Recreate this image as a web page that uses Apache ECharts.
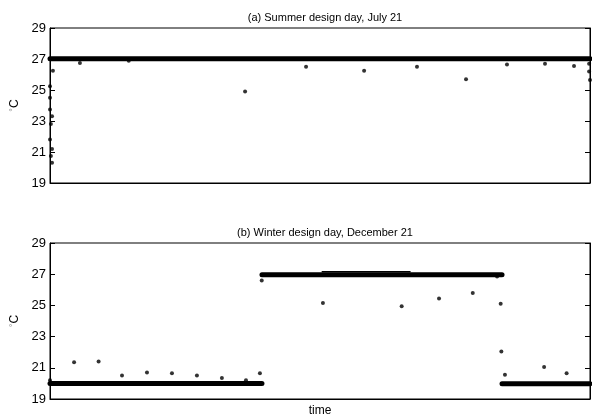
<!DOCTYPE html>
<html>
<head>
<meta charset="utf-8">
<script src="https://cdn.jsdelivr.net/npm/echarts@6/dist/echarts.min.js"></script>
<style>
	html, body { margin: 0; padding: 0; background: #fff; }
	#chart { width: 592px; height: 420px; }
</style>
</head>
<body>
<div id="chart"></div>
<script>
// y axis ticks (deg C), x is hour of day
var yTicks = [19, 21, 23, 25, 27, 29];
var hours = [0, 24];

// summer: dense band of points ~27 C, drawn as segments [start, end, level]
var summerBandStart = [0];
var summerBandEnd = [24];
var summerBandLevel = [27.02];

// summer outliers
var summerOutX = [0.13, 0.0, 0.0, 0.0, 0.09, 0.04, 0.0, 0.09, 0.04, 0.09, 1.33, 3.5, 8.67, 11.38, 13.96, 16.31, 18.49, 20.31, 22.0, 23.29, 23.96, 23.96, 24.0];
var summerOutY = [26.25, 25.25, 24.5, 23.75, 23.3, 22.8, 21.8, 21.2, 20.75, 20.3, 26.75, 26.88, 24.9, 26.5, 26.25, 26.5, 25.7, 26.65, 26.7, 26.55, 26.7, 26.2, 25.65];

// winter: heating setback 20 C, occupied 27 C
var winterBandStart = [0, 9.42, 20.09, 12.1];
var winterBandEnd = [9.42, 20.09, 24, 16.0];
var winterBandLevel = [20.0, 26.97, 19.97, 27.15];

// winter outliers
var winterOutX = [0, 1.07, 2.16, 3.2, 4.31, 5.42, 6.53, 7.64, 8.71, 9.33, 9.41, 12.13, 15.63, 17.29, 18.79, 19.87, 20.03, 20.06, 20.22, 21.96, 22.96];
var winterOutY = [20.2, 21.35, 21.4, 20.5, 20.7, 20.65, 20.5, 20.35, 20.2, 20.65, 26.6, 25.15, 24.95, 25.45, 25.8, 26.85, 25.1, 22.05, 20.55, 21.05, 20.65];

var FONT = 'Liberation Sans, Arial, sans-serif';

function zip(xs, ys) {
	return xs.map(function (x, i) { return [x, ys[i]]; });
}

// one line series per band segment
function bandSeries(starts, ends, levels, idx) {
	return starts.map(function (s, i) {
		var thin = (idx === 1 && i === 3);
		return {
			type: 'line',
			xAxisIndex: idx,
			yAxisIndex: idx * 2,
			data: [[s, levels[i]], [ends[i], levels[i]]],
			symbol: 'none',
			silent: true,
			lineStyle: { color: '#000', width: thin ? 1.5 : 5, cap: 'round' }
		};
	});
}

function yAxes(gridIndex, showName) {
	var base = {
		gridIndex: gridIndex,
		min: yTicks[0],
		max: yTicks[yTicks.length - 1],
		interval: 2,
		splitLine: { show: false },
		axisLine: { show: true, lineStyle: { color: '#000' } },
		axisTick: { inside: true, length: 5, lineStyle: { color: '#000' } }
	};
	var left = Object.assign({}, base, {
		position: 'left',
		name: showName ? '{d|°}C' : '',
		nameLocation: 'middle',
		nameGap: 29,
		nameTextStyle: {
			color: '#000', fontSize: 12, fontFamily: FONT,
			rich: { d: { color: '#888', fontSize: 9, fontFamily: FONT, verticalAlign: 'top' } }
		},
		axisLabel: { color: '#000', fontSize: 13, fontFamily: FONT, margin: 4 }
	});
	var right = Object.assign({}, base, {
		position: 'right',
		axisLabel: { show: false }
	});
	return [left, right];
}

function xAxis(gridIndex, name) {
	return {
		type: 'value',
		gridIndex: gridIndex,
		min: hours[0],
		max: hours[1],
		name: name,
		nameLocation: 'middle',
		nameGap: 6,
		nameTextStyle: { color: '#000', fontSize: 12, fontFamily: FONT, verticalAlign: 'top' },
		axisLabel: { show: false },
		axisTick: { show: false },
		splitLine: { show: false },
		axisLine: { show: true, onZero: false, lineStyle: { color: '#000' } }
	};
}

var chart = echarts.init(document.getElementById('chart'));

var series = []
	.concat(bandSeries(summerBandStart, summerBandEnd, summerBandLevel, 0))
	.concat(bandSeries(winterBandStart, winterBandEnd, winterBandLevel, 1));

series.push({
	type: 'scatter',
	xAxisIndex: 0,
	yAxisIndex: 0,
	data: zip(summerOutX, summerOutY),
	symbolSize: 4,
	clip: false,
	itemStyle: { color: '#000' }
});
series.push({
	type: 'scatter',
	xAxisIndex: 1,
	yAxisIndex: 2,
	data: zip(winterOutX, winterOutY),
	symbolSize: 4,
	clip: false,
	itemStyle: { color: '#000' }
});

chart.setOption({
	animation: false,
	backgroundColor: '#fff',
	title: [
		{ text: '(a) Summer design day, July 21', left: 320, textAlign: 'center', top: 7,
			textStyle: { fontSize: 11, fontWeight: 'normal', color: '#000', fontFamily: FONT } },
		{ text: '(b) Winter design day, December 21', left: 320, textAlign: 'center', top: 222,
			textStyle: { fontSize: 11, fontWeight: 'normal', color: '#000', fontFamily: FONT } }
	],
	grid: [
		{ left: 50, top: 28, width: 540, height: 155, show: true, borderColor: '#000', borderWidth: 1 },
		{ left: 50, top: 243, width: 540, height: 156, show: true, borderColor: '#000', borderWidth: 1 }
	],
	xAxis: [xAxis(0, ''), xAxis(1, 'time')],
	yAxis: yAxes(0, true).concat(yAxes(1, true)),
	series: series
});
</script>
</body>
</html>
